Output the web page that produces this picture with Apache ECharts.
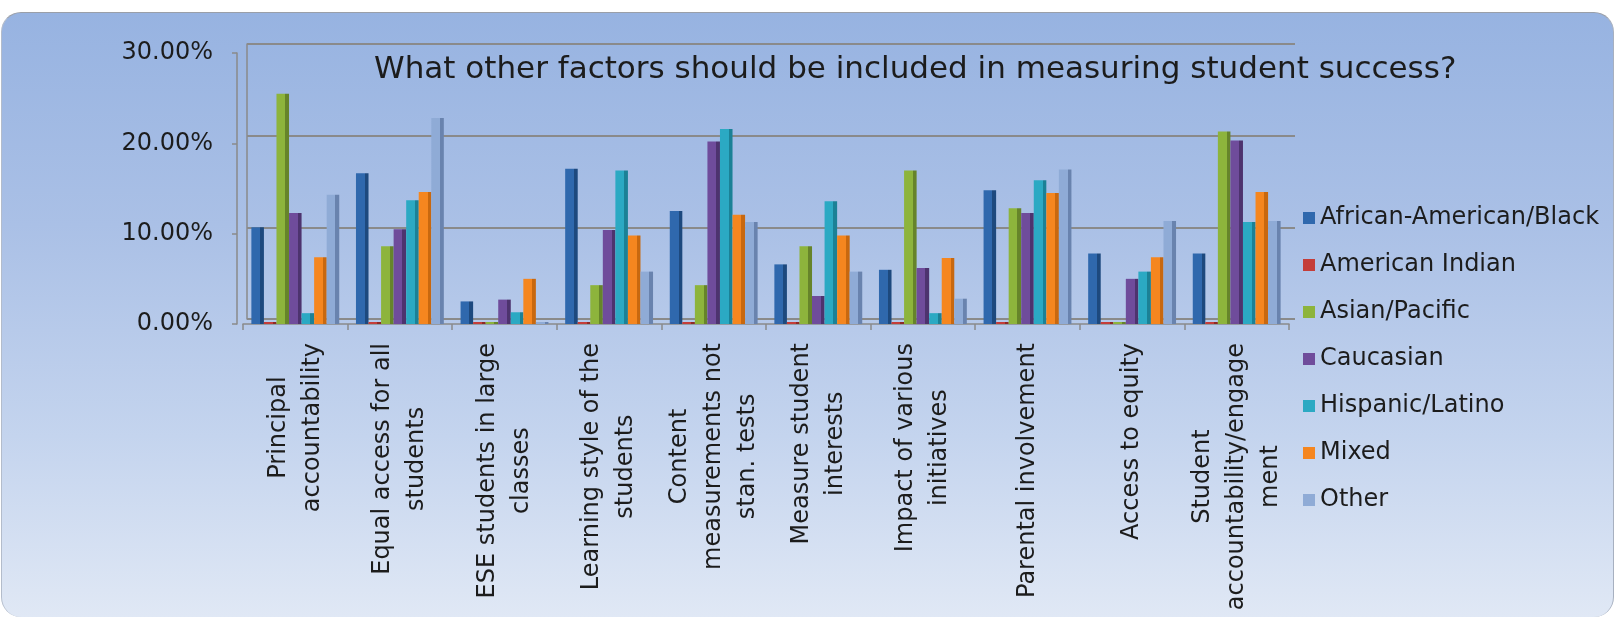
<!DOCTYPE html>
<html>
<head>
<meta charset="utf-8">
<script src="https://cdn.jsdelivr.net/npm/echarts@6/dist/echarts.min.js"></script>
<style>
html,body{margin:0;padding:0;background:#ffffff;}
#wrap{position:relative;width:1616px;height:622px;overflow:hidden;}
#bg{position:absolute;left:1px;top:12px;width:1611px;height:604px;border-radius:20px;
  background:linear-gradient(to bottom,#97b3e1 0%,#aac0e6 35%,#c4d4ee 70%,#e0e8f5 100%);
  border-top:1.5px solid #9a9fa8;border-right:1.5px solid #a7b0c0;border-left:1px solid #b3bccb;}
#c{position:absolute;left:0;top:0;width:1616px;height:622px;}
</style>
</head>
<body>
<div id="wrap"><div id="bg"></div><div id="c"></div></div>
<script>
// ---------- data ----------
const categories = [
  'Principal\naccountability',
  'Equal access for all\nstudents',
  'ESE students in large\nclasses',
  'Learning style of the\nstudents',
  'Content\nmeasurements not\nstan. tests',
  'Measure student\ninterests',
  'Impact of various\ninitiatives',
  'Parental involvement',
  'Access to equity',
  'Student\naccountability/engage\nment'
];
const seriesNames = ['African-American/Black','American Indian','Asian/Pacific','Caucasian','Hispanic/Latino','Mixed','Other'];
const africanAmerican = [10.7, 16.7, 2.5, 17.2, 12.5, 6.6, 6.0, 14.8, 7.8, 7.8];
const americanIndian  = [0, 0, 0, 0, 0, 0, 0, 0, 0, 0];
const asianPacific    = [25.5, 8.6, 0, 4.3, 4.3, 8.6, 17.0, 12.8, 0, 21.3];
const caucasian       = [12.3, 10.5, 2.7, 10.4, 20.2, 3.1, 6.2, 12.3, 5.0, 20.3];
const hispanicLatino  = [1.2, 13.7, 1.3, 17.0, 21.6, 13.6, 1.2, 15.9, 5.8, 11.3];
const mixed           = [7.4, 14.6, 5.0, 9.8, 12.1, 9.8, 7.3, 14.5, 7.4, 14.6];
const other           = [14.3, 22.8, 0, 5.8, 11.3, 5.8, 2.8, 17.1, 11.4, 11.4];
const yTickValues = [0, 10, 20, 30];
const yTickLabels = ['0.00%', '10.00%', '20.00%', '30.00%'];
const titleText = 'What other factors should be included in measuring student success?';

// ---------- style ----------
const FONT = 'DejaVu Sans';
const TEXT = '#1c1c1c';
const AXIS = '#8a8a8a';
const baseColors = ['#2f68ad', '#c43d39', '#8db43c', '#6f4c9b', '#2ba9c3', '#f5861f', '#8fabd6'];
const darkColors = ['#1d497e', '#8e2926', '#66842a', '#4d336e', '#1b8196', '#c8680f', '#6983ae'];
const seriesData = [africanAmerican, americanIndian, asianPacific, caucasian, hispanicLatino, mixed, other];

function barGrad(i) {
  return new echarts.graphic.LinearGradient(0, 0, 1, 0, [
    {offset: 0, color: baseColors[i]},
    {offset: 0.7, color: baseColors[i]},
    {offset: 0.7, color: darkColors[i]},
    {offset: 1, color: darkColors[i]}
  ]);
}

const chart = echarts.init(document.getElementById('c'), null, {renderer: 'canvas'});
const option = {
  backgroundColor: 'transparent',
  animation: false,
  title: {
    text: titleText,
    left: 369, top: 49,
    textStyle: {fontFamily: FONT, fontSize: 31, fontWeight: 'normal', color: TEXT}
  },
  legend: {
    orient: 'vertical',
    left: 1298, top: 201,
    itemWidth: 12, itemHeight: 12, itemGap: 23,
    icon: 'rect',
    textStyle: {fontFamily: FONT, fontSize: 24, color: TEXT},
    data: seriesNames.map((n, i) => ({name: n, itemStyle: {color: baseColors[i]}}))
  },
  grid: [
    {left: 243, top: 53, width: 1046, height: 271, containLabel: false},
    {left: 247, top: 44, width: 1048, height: 275, containLabel: false}
  ],
  xAxis: [
    {
      type: 'category', gridIndex: 0, data: categories,
      axisLine: {lineStyle: {color: AXIS, width: 1.5}},
      axisTick: {show: true, length: 6, lineStyle: {color: AXIS, width: 1.5}},
      axisLabel: {
        interval: 0, rotate: 90, margin: 19,
        formatter: v => v.split('\n').map(s => '{c|' + s + '}').join('\n'),
        rich: {c: {align: 'center', fontFamily: FONT, fontSize: 24, lineHeight: 34, color: TEXT}}
      },
      splitLine: {show: false}
    },
    {type: 'value', gridIndex: 1, min: 0, max: 1, show: false}
  ],
  yAxis: [
    {
      type: 'value', gridIndex: 0, min: 0, max: 30, interval: 10, offset: 6,
      axisLine: {show: true, lineStyle: {color: AXIS, width: 1.5}},
      axisTick: {show: true, length: 5, lineStyle: {color: AXIS, width: 1.5}},
      splitLine: {show: false},
      axisLabel: {
        margin: 24, fontFamily: FONT, fontSize: 24, color: TEXT,
        formatter: v => yTickLabels[yTickValues.indexOf(v)]
      }
    },
    {
      type: 'value', gridIndex: 1, min: 0, max: 30, interval: 10,
      axisLine: {show: true, lineStyle: {color: AXIS, width: 1.5}},
      axisTick: {show: false}, axisLabel: {show: false},
      splitLine: {show: true, lineStyle: {color: AXIS, width: 2}}
    }
  ],
  series: seriesNames.map((n, i) => ({
    name: n, type: 'bar', xAxisIndex: 0, yAxisIndex: 0,
    data: seriesData[i],
    barGap: '0%', barCategoryGap: '16%', barMinHeight: 2,
    itemStyle: {color: barGrad(i)}
  }))
};
chart.setOption(option);
</script>
</body>
</html>
